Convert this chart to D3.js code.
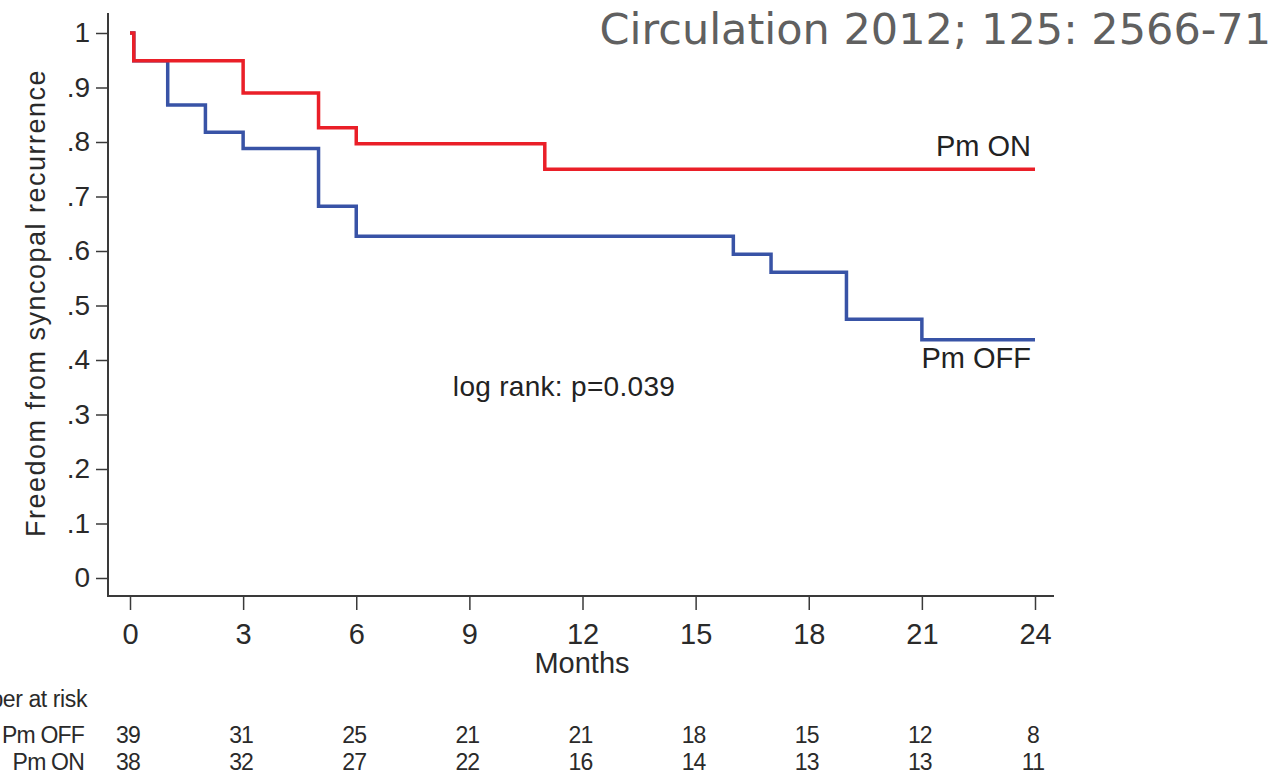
<!DOCTYPE html>
<html>
<head>
<meta charset="utf-8">
<script src="https://cdn.jsdelivr.net/npm/d3@7"></script>
<style>
  html, body { margin: 0; padding: 0; background: #fff; }
  svg { display: block; }
</style>
</head>
<body>
<script>
// ---- Data ----
const xTicks = [0, 3, 6, 9, 12, 15, 18, 21, 24];
const yTicks = [0, 0.1, 0.2, 0.3, 0.4, 0.5, 0.6, 0.7, 0.8, 0.9, 1];
const yTickLabels = ["0", ".1", ".2", ".3", ".4", ".5", ".6", ".7", ".8", ".9", "1"];
// step curves: [month, survival] points (value holds from month onward)
const pmOnTimes  = [0, 0.1, 3, 5, 6, 11, 24];
const pmOnVals   = [1, 0.949, 0.890, 0.826, 0.797, 0.750, 0.750];
const pmOffTimes = [0, 0.1, 1, 2, 3, 5, 6, 16, 17, 19, 21, 24];
const pmOffVals  = [1, 0.949, 0.868, 0.818, 0.788, 0.682, 0.627, 0.594, 0.561, 0.475, 0.437, 0.437];
const riskGroups = ["Pm OFF", "Pm ON"];
const riskOff = [39, 31, 25, 21, 21, 18, 15, 12, 8];
const riskOn  = [38, 32, 27, 22, 16, 14, 13, 13, 11];

const W = 1284, H = 778;
const svg = d3.select("body").append("svg").attr("width", W).attr("height", H);

const x = d3.scaleLinear().domain([0, 24]).range([130, 1035]);
const y = d3.scaleLinear().domain([0, 1]).range([578, 33]);

const axisColor = "#3a3a3a";
const textColor = "#2a2a2a";
const font = "'Liberation Sans', Arial, sans-serif";

// axis lines
svg.append("line").attr("x1", 108).attr("x2", 108).attr("y1", 13).attr("y2", 597)
  .attr("stroke", axisColor).attr("stroke-width", 2);
svg.append("line").attr("x1", 107).attr("x2", 1054).attr("y1", 596).attr("y2", 596)
  .attr("stroke", axisColor).attr("stroke-width", 2);

// y axis
const yAxis = d3.axisLeft(y).tickValues(yTicks).tickSize(12).tickPadding(6)
  .tickFormat((d, i) => yTickLabels[i]);
const gy = svg.append("g").attr("transform", "translate(108,0)").call(yAxis);
gy.select(".domain").remove();
gy.selectAll(".tick line").attr("stroke", axisColor).attr("stroke-width", 1.5);
gy.selectAll(".tick text").attr("font-family", font).attr("font-size", 28).attr("fill", textColor);

// x axis
const xAxis = d3.axisBottom(x).tickValues(xTicks).tickSize(14).tickPadding(13);
const gx = svg.append("g").attr("transform", "translate(0,596)").call(xAxis);
gx.select(".domain").remove();
gx.selectAll(".tick line").attr("stroke", axisColor).attr("stroke-width", 1.5);
gx.selectAll(".tick text").attr("font-family", font).attr("font-size", 29).attr("fill", textColor);

// axis titles
svg.append("text").attr("x", 582).attr("y", 673).attr("text-anchor", "middle")
  .attr("font-family", font).attr("font-size", 29).attr("fill", textColor).text("Months");
svg.append("text").attr("transform", "translate(45,303) rotate(-90)").attr("text-anchor", "middle")
  .attr("font-family", font).attr("font-size", 27).attr("letter-spacing", 1.5)
  .attr("fill", textColor).text("Freedom from syncopal recurrence");

// curves
const line = d3.line().x(d => x(d[0])).y(d => y(d[1])).curve(d3.curveStepAfter);
const offPts = pmOffTimes.map((t, i) => [t, pmOffVals[i]]);
const onPts = pmOnTimes.map((t, i) => [t, pmOnVals[i]]);
svg.append("path").datum(offPts).attr("d", line).attr("fill", "none")
  .attr("stroke", "#3853a6").attr("stroke-width", 3.5);
svg.append("path").datum(onPts).attr("d", line).attr("fill", "none")
  .attr("stroke", "#ea1f28").attr("stroke-width", 3.5);

// labels
svg.append("text").attr("x", 1031).attr("y", 156).attr("text-anchor", "end")
  .attr("font-family", font).attr("font-size", 29).attr("fill", "#222").text("Pm ON");
svg.append("text").attr("x", 1031).attr("y", 368).attr("text-anchor", "end")
  .attr("font-family", font).attr("font-size", 29).attr("fill", "#222").text("Pm OFF");
svg.append("text").attr("x", 564).attr("y", 396).attr("text-anchor", "middle")
  .attr("font-family", font).attr("font-size", 28).attr("letter-spacing", 0.3)
  .attr("fill", "#222").text("log rank: p=0.039");

// citation
svg.append("text").attr("x", 1271).attr("y", 44).attr("text-anchor", "end")
  .attr("font-family", "'DejaVu Sans', Verdana, sans-serif").attr("font-size", 43).attr("fill", "#606060")
  .text("Circulation 2012; 125: 2566-71");

// risk table
const rf = 23;
svg.append("text").attr("x", 87).attr("y", 707).attr("text-anchor", "end")
  .attr("font-family", font).attr("font-size", rf).attr("letter-spacing", -0.4)
  .attr("fill", textColor).text("Number at risk");
[riskOff, riskOn].forEach((row, r) => {
  const yy = 743 + r * 27;
  svg.append("text").attr("x", 84).attr("y", yy).attr("text-anchor", "end")
    .attr("font-family", font).attr("font-size", rf).attr("letter-spacing", -0.8)
    .attr("fill", textColor).text(riskGroups[r]);
  svg.selectAll(null).data(row).enter().append("text")
    .attr("x", (d, i) => x(xTicks[i]) - 2).attr("y", yy).attr("text-anchor", "middle")
    .attr("font-family", font).attr("font-size", rf).attr("letter-spacing", -0.8)
    .attr("fill", textColor).text(d => d);
});
</script>
</body>
</html>
